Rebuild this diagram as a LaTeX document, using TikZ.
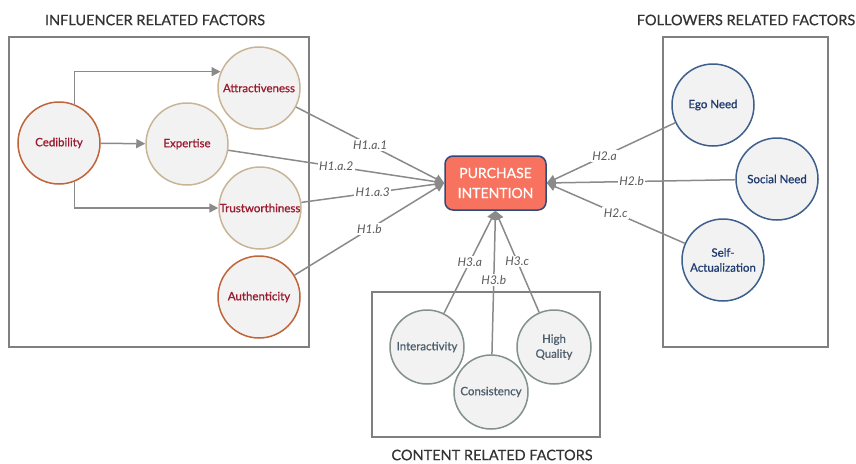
\documentclass[tikz,border=0pt]{standalone}
\usepackage{fontspec}
\setmainfont{Lato}
\newfontfamily\medfont[FakeBold=0.9]{Lato}
\newfontfamily\titlefont[FakeBold=0.5]{Lato}
\usetikzlibrary{arrows.meta}
\definecolor{circfill}{HTML}{F2F2F2}
\definecolor{redborder}{HTML}{C0643A}
\definecolor{tanborder}{HTML}{C9B596}
\definecolor{redtext}{HTML}{9B1B30}
\definecolor{blueborder}{HTML}{3E5F8C}
\definecolor{bluetext}{HTML}{1F3A6E}
\definecolor{grayborder}{HTML}{82918E}
\definecolor{graytext}{HTML}{4F5F6E}
\definecolor{linegray}{HTML}{8A8A8A}
\definecolor{boxgray}{HTML}{808080}
\definecolor{pifill}{HTML}{F8735F}
\definecolor{piborder}{HTML}{2E4A7A}
\begin{document}
\begin{tikzpicture}[x=1pt,y=-1pt,
  circ/.style={circle,fill=circfill,line width=1.5pt,minimum size=82pt,inner sep=0pt,font=\medfont\fontsize{11.5}{15}\selectfont,align=center},
  redc/.style={circ,draw=redborder,text=redtext},
  tanc/.style={circ,draw=tanborder,text=redtext},
  bluec/.style={circ,draw=blueborder,text=bluetext},
  grayc/.style={circ,draw=grayborder,text=graytext,minimum size=74pt},
  grpbox/.style={draw=boxgray,line width=1.5pt},
  title/.style={font=\titlefont\fontsize{14.5}{17}\selectfont,text=black!80},
  conn/.style={draw=linegray,line width=1.5pt},
  arr/.style={conn,-{Triangle[length=9pt,width=9pt]}},
  lab/.style={fill=white,inner sep=1.5pt,font=\fontsize{12}{14}\selectfont\itshape,text=black!65}]
\useasboundingbox (0,0) rectangle (856,463);
% group boxes
\draw[grpbox] (9,37) rectangle (309,347);
\draw[grpbox] (663,37) rectangle (828,347);
\draw[grpbox] (372,292) rectangle (600,437);
\node[title] (t1) at (155,20) {INFLUENCER RELATED FACTORS};
\node[title] (t2) at (746,20) {FOLLOWERS RELATED FACTORS};
\node[title] (t3) at (492,455) {CONTENT RELATED FACTORS};
% influencer
\node[redc] (ced) at (59,143) {Cedibility};
\node[tanc] (attr) at (259,88) {Attractiveness};
\node[tanc] (exp) at (187,144) {Expertise};
\node[tanc] (trust) at (260,208) {Trustworthiness};
\node[redc] (auth) at (259,297) {Authenticity};
% followers
\node[bluec] (ego) at (713,105) {Ego Need};
\node[bluec] (soc) at (777,179) {Social Need};
\node[bluec] (self) at (723,260) {Self-\\Actualization};
% content
\node[grayc] (inter) at (427,347) {Interactivity};
\node[grayc] (cons) at (491,392) {Consistency};
\node[grayc] (high) at (554,347) {High\\Quality};
% purchase intention
\node[draw=piborder,fill=pifill,line width=1.5pt,rounded corners=8pt,minimum width=101pt,minimum height=54pt,align=center,text=white,font=\titlefont\fontsize{14}{20}\selectfont] (pi) at (495.5,183) {PURCHASE\\INTENTION};
% credibility arrows
\draw[arr] (ced.68) |- (attr.157);
\draw[arr] (ced.-68) |- (trust.west);
\draw[arr] (ced) -- (exp);
% hypotheses
\draw[arr] (attr) -- node[lab,pos=0.5] {H1.a.1} (pi.west);
\draw[arr] (exp) -- node[lab,pos=0.5] {H1.a.2} (pi.west);
\draw[arr] (trust) -- node[lab,pos=0.5] {H1.a.3} (pi.west);
\draw[arr] (auth) -- node[lab,pos=0.5] {H1.b} (pi.west);
\draw[arr] (ego) -- node[lab,pos=0.55] {H2.a} (pi.east);
\draw[arr] (soc) -- node[lab,pos=0.55] {H2.b} (pi.east);
\draw[arr] (self) -- node[lab,pos=0.5] {H2.c} (pi.east);
\draw[arr] (inter) -- node[lab,pos=0.5] {H3.a} (pi.south);
\draw[arr] (cons) -- node[lab,pos=0.52] {H3.b} (pi.south);
\draw[arr] (high) -- node[lab,pos=0.5] {H3.c} (pi.south);
\end{tikzpicture}
\end{document}
